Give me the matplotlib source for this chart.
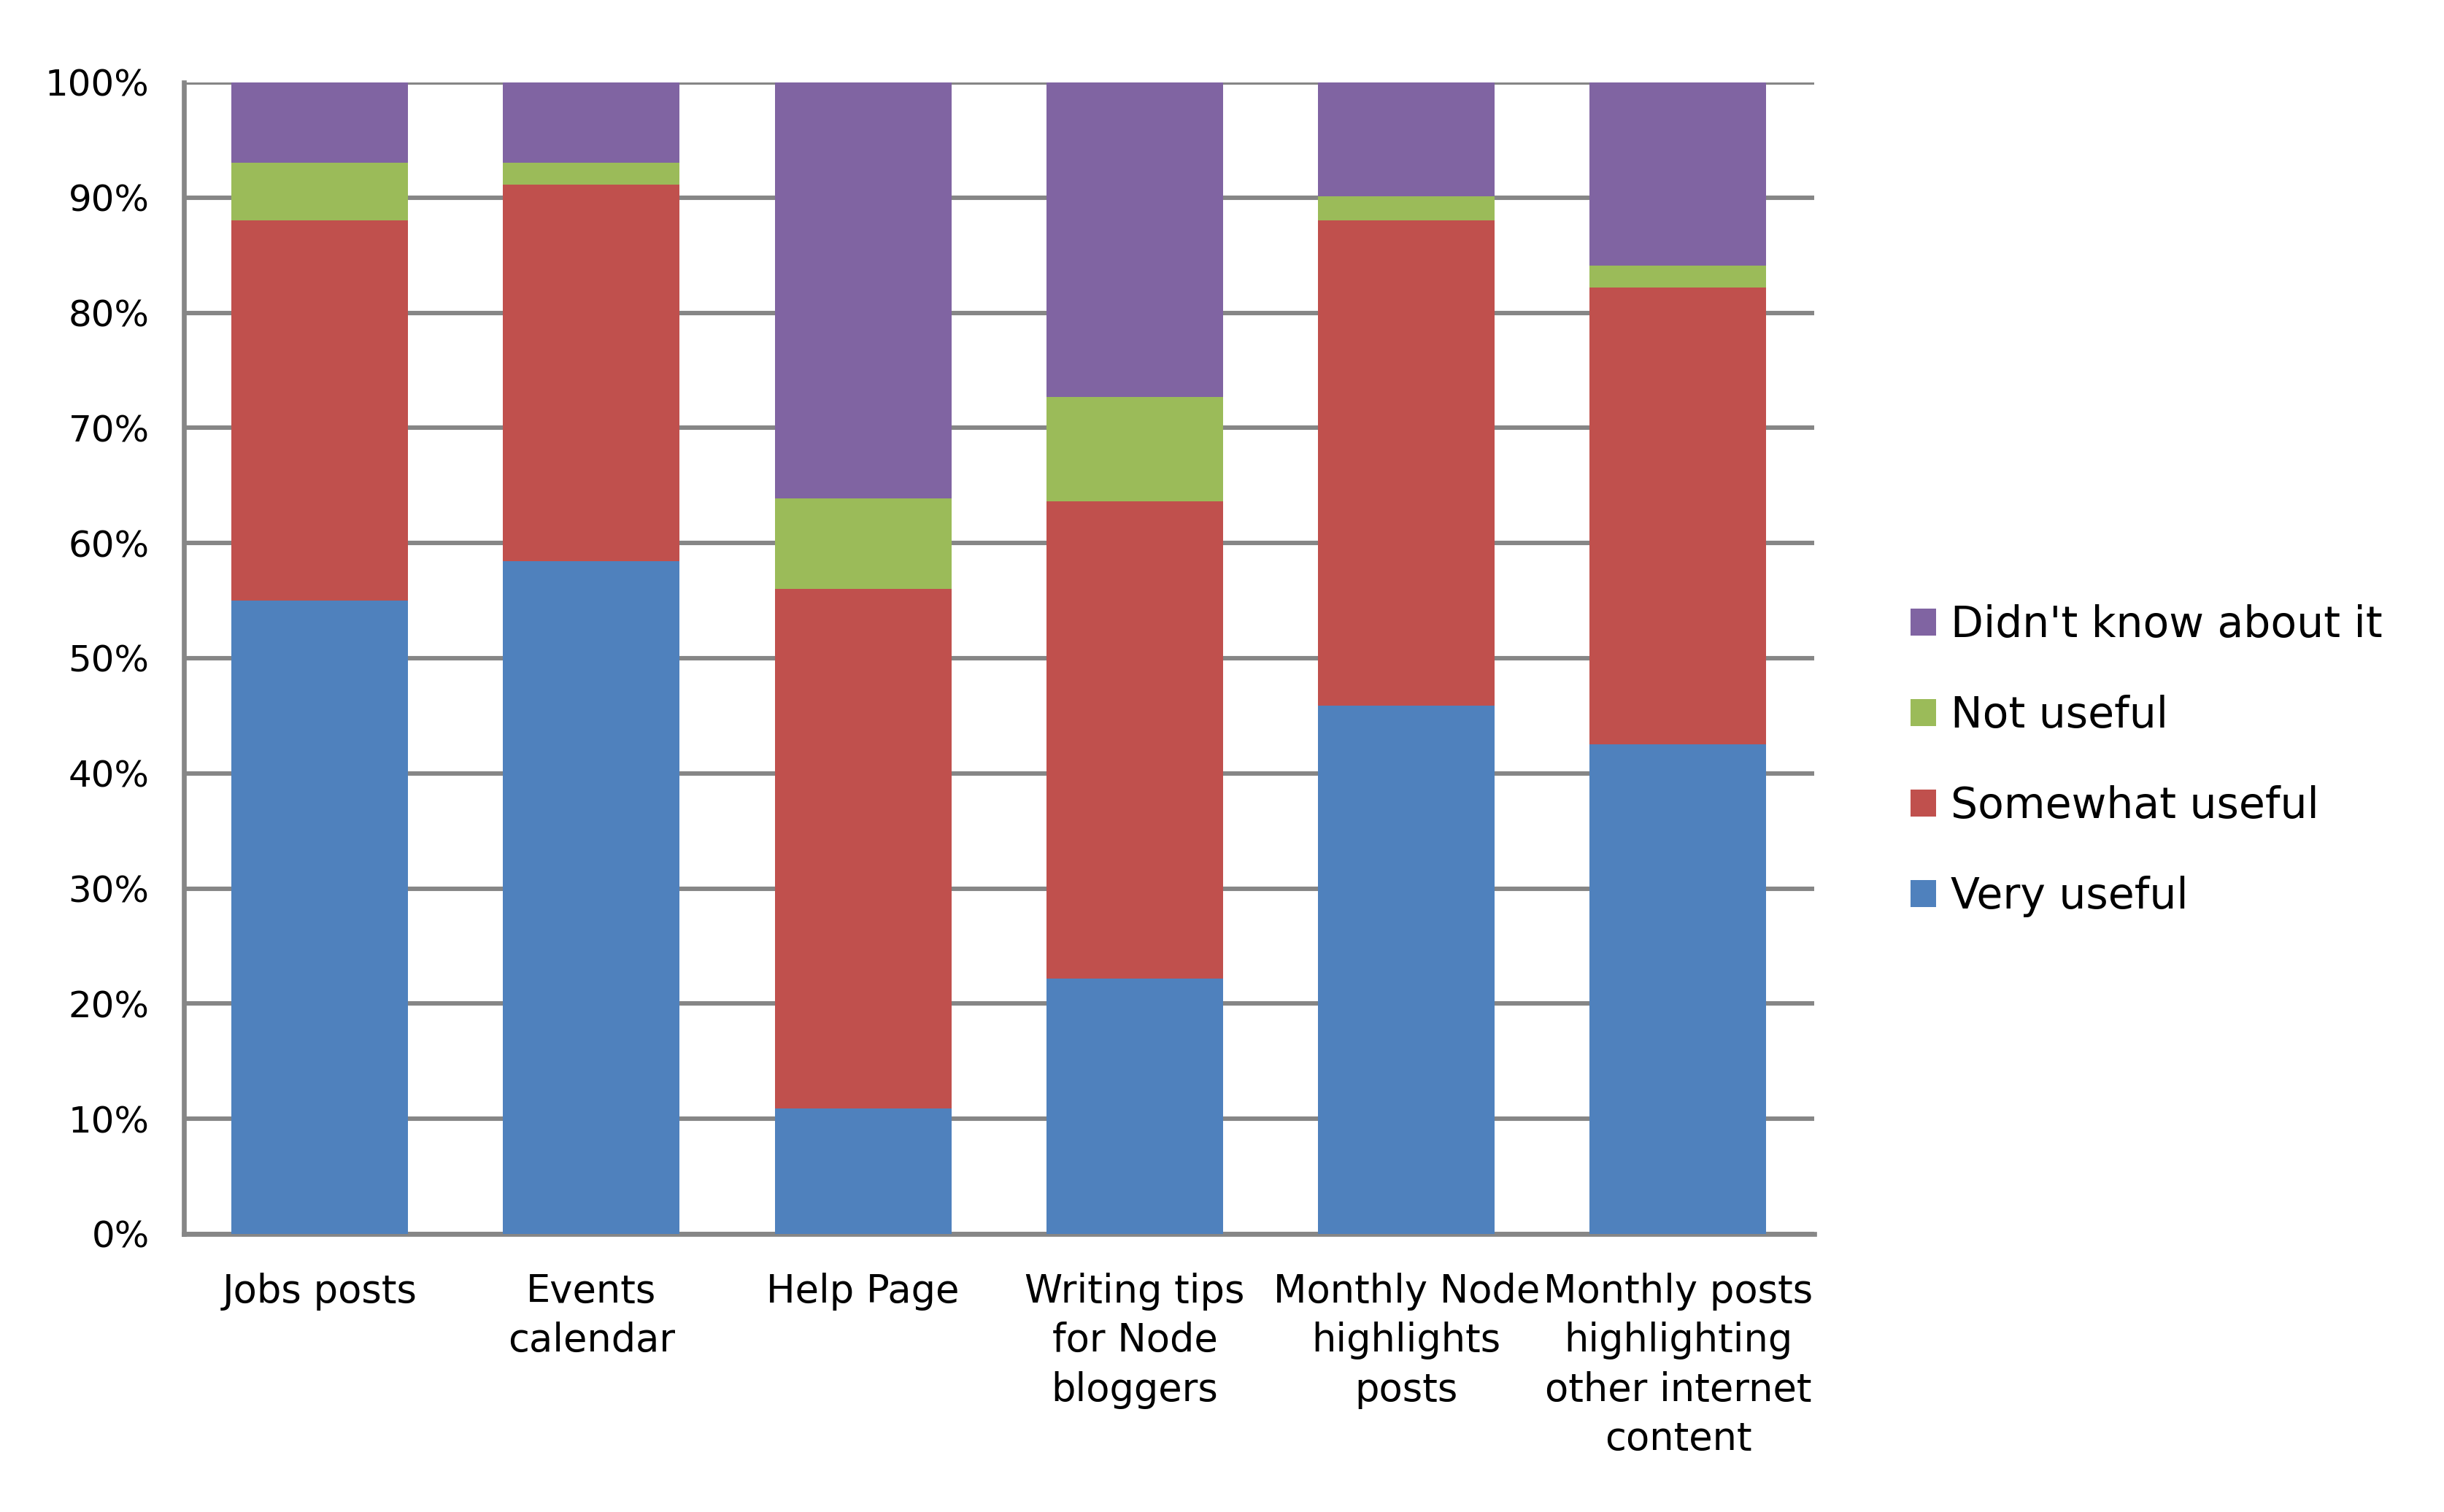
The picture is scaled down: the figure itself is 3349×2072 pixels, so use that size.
import matplotlib.pyplot as plt
import numpy as np

categories = ["Jobs posts", "Events\ncalendar", "Help Page", "Writing tips\nfor Node\nbloggers",
              "Monthly Node\nhighlights\nposts", "Monthly posts\nhighlighting\nother internet\ncontent"]
very_useful = [55.0, 58.4, 10.9, 22.2, 45.9, 42.5]
somewhat_useful = [33.0, 32.7, 45.1, 41.4, 42.1, 39.7]
not_useful = [5.0, 1.9, 7.9, 9.1, 2.1, 1.9]
didnt_know = [7.0, 7.0, 36.1, 27.3, 10.0, 15.9]

series = [("Very useful", very_useful, "#4F81BD"),
          ("Somewhat useful", somewhat_useful, "#C0504D"),
          ("Not useful", not_useful, "#9BBB59"),
          ("Didn't know about it", didnt_know, "#8064A2")]

plt.rcParams['font.family'] = ['DejaVu Sans']
grid_col = "#868686"

fig = plt.figure(figsize=(16.745, 10.36), dpi=200)
ax = fig.add_axes([0.0752, 0.1839, 0.667, 0.7616])

x = np.arange(len(categories))
bottom = np.zeros(len(categories))
handles = []
for name, vals, col in series:
    b = ax.bar(x, vals, width=0.65, bottom=bottom, color=col, label=name, zorder=3)
    handles.append(b)
    bottom += np.array(vals)

ax.set_xlim(-0.5, len(categories) - 0.5)
ax.set_ylim(0, 100)
ax.set_yticks(np.arange(0, 101, 10))
ax.set_yticklabels([f"{v}%" for v in range(0, 101, 10)], fontsize=18)
ax.set_xticks(x)
ax.set_xticklabels(categories, fontsize=19, linespacing=1.38)
ax.tick_params(axis='both', length=0)
ax.tick_params(axis='y', pad=17)
ax.tick_params(axis='x', pad=19)

ax.yaxis.grid(True, color=grid_col, linewidth=2.2, zorder=0)
for s in ['top', 'right']:
    ax.spines[s].set_visible(False)
for s in ['left', 'bottom']:
    ax.spines[s].set_color(grid_col)
    ax.spines[s].set_linewidth(2.4)

leg = fig.legend(handles[::-1], [s[0] for s in series][::-1], loc='center left',
                 bbox_to_anchor=(0.773, 0.497), frameon=False, fontsize=21,
                 handlelength=0.6, handleheight=0.6, handletextpad=0.35,
                 labelspacing=1.15, borderpad=0)

fig.savefig("out.png", dpi=200)
